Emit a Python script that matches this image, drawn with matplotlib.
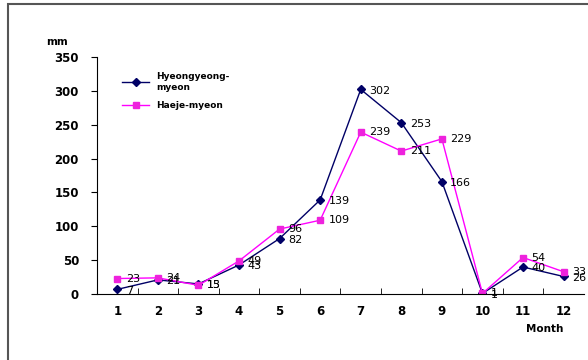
import matplotlib
matplotlib.use("Agg")
import matplotlib.pyplot as plt
from matplotlib.patches import Rectangle

# Monthly rainfall (mm)
months = [1, 2, 3, 4, 5, 6, 7, 8, 9, 10, 11, 12]
hyeon = [7, 21, 15, 43, 82, 139, 302, 253, 166, 1, 40, 26]
haeje = [23, 24, 13, 49, 96, 109, 239, 211, 229, 1, 54, 33]
series_names = ["Hyeongyeong-\nmyeon", "Haeje-myeon"]
yticks = [0, 50, 100, 150, 200, 250, 300, 350]

fig = plt.figure(figsize=(5.88, 3.6), dpi=100)
ax = fig.add_axes([0.165, 0.183, 0.828, 0.659])

# outer chart border
fig.patches.append(Rectangle((8 / 588, -0.05), 1.2, 1 - 4 / 360 + 0.05,
                             transform=fig.transFigure, fill=False,
                             edgecolor="#555555", lw=1.5))

ax.plot(months, hyeon, color="#000066", lw=1, marker="D", ms=4,
        label=series_names[0])
ax.plot(months, haeje, color="#ff00ff", lw=1, marker="s", ms=5,
        mfc="#ee22dd", mec="#ee22dd", label=series_names[1])

for x, y in zip(months, hyeon):
    ax.annotate(str(y), (x, y), xytext=(6, -1), textcoords="offset points",
                ha="left", va="center", fontsize=8)
for x, y in zip(months, haeje):
    ax.annotate(str(y), (x, y), xytext=(6, 0), textcoords="offset points",
                ha="left", va="center", fontsize=8)

ax.set_xlim(0.5, 12.5)
ax.set_ylim(0, 350)
ax.set_yticks(yticks)
ax.set_xticks(months)
ax.set_xticks([m + 0.5 for m in months[:-1]], minor=True)
ax.tick_params(axis="x", which="major", length=0, pad=8, labelsize=8.5)
ax.tick_params(axis="x", which="minor", direction="in", length=4)
ax.tick_params(axis="y", length=4, labelsize=8.5, pad=9)
for lab in ax.get_xticklabels() + ax.get_yticklabels():
    lab.set_fontweight("bold")
ax.spines["top"].set_visible(False)
ax.spines["right"].set_visible(False)

fig.text(57 / 588, 1 - 42 / 360, "mm", ha="center", va="center",
         fontsize=7.5, fontweight="bold")
fig.text(545 / 588, 1 - 329 / 360, "Month", ha="center", va="center",
         fontsize=7.5, fontweight="bold")

leg = ax.legend(loc="upper left", bbox_to_anchor=(0.035, 0.97), frameon=False,
                prop={"size": 6.5, "weight": "bold"}, handlelength=3,
                labelspacing=1.1)

fig.savefig("out.png", dpi=100)
